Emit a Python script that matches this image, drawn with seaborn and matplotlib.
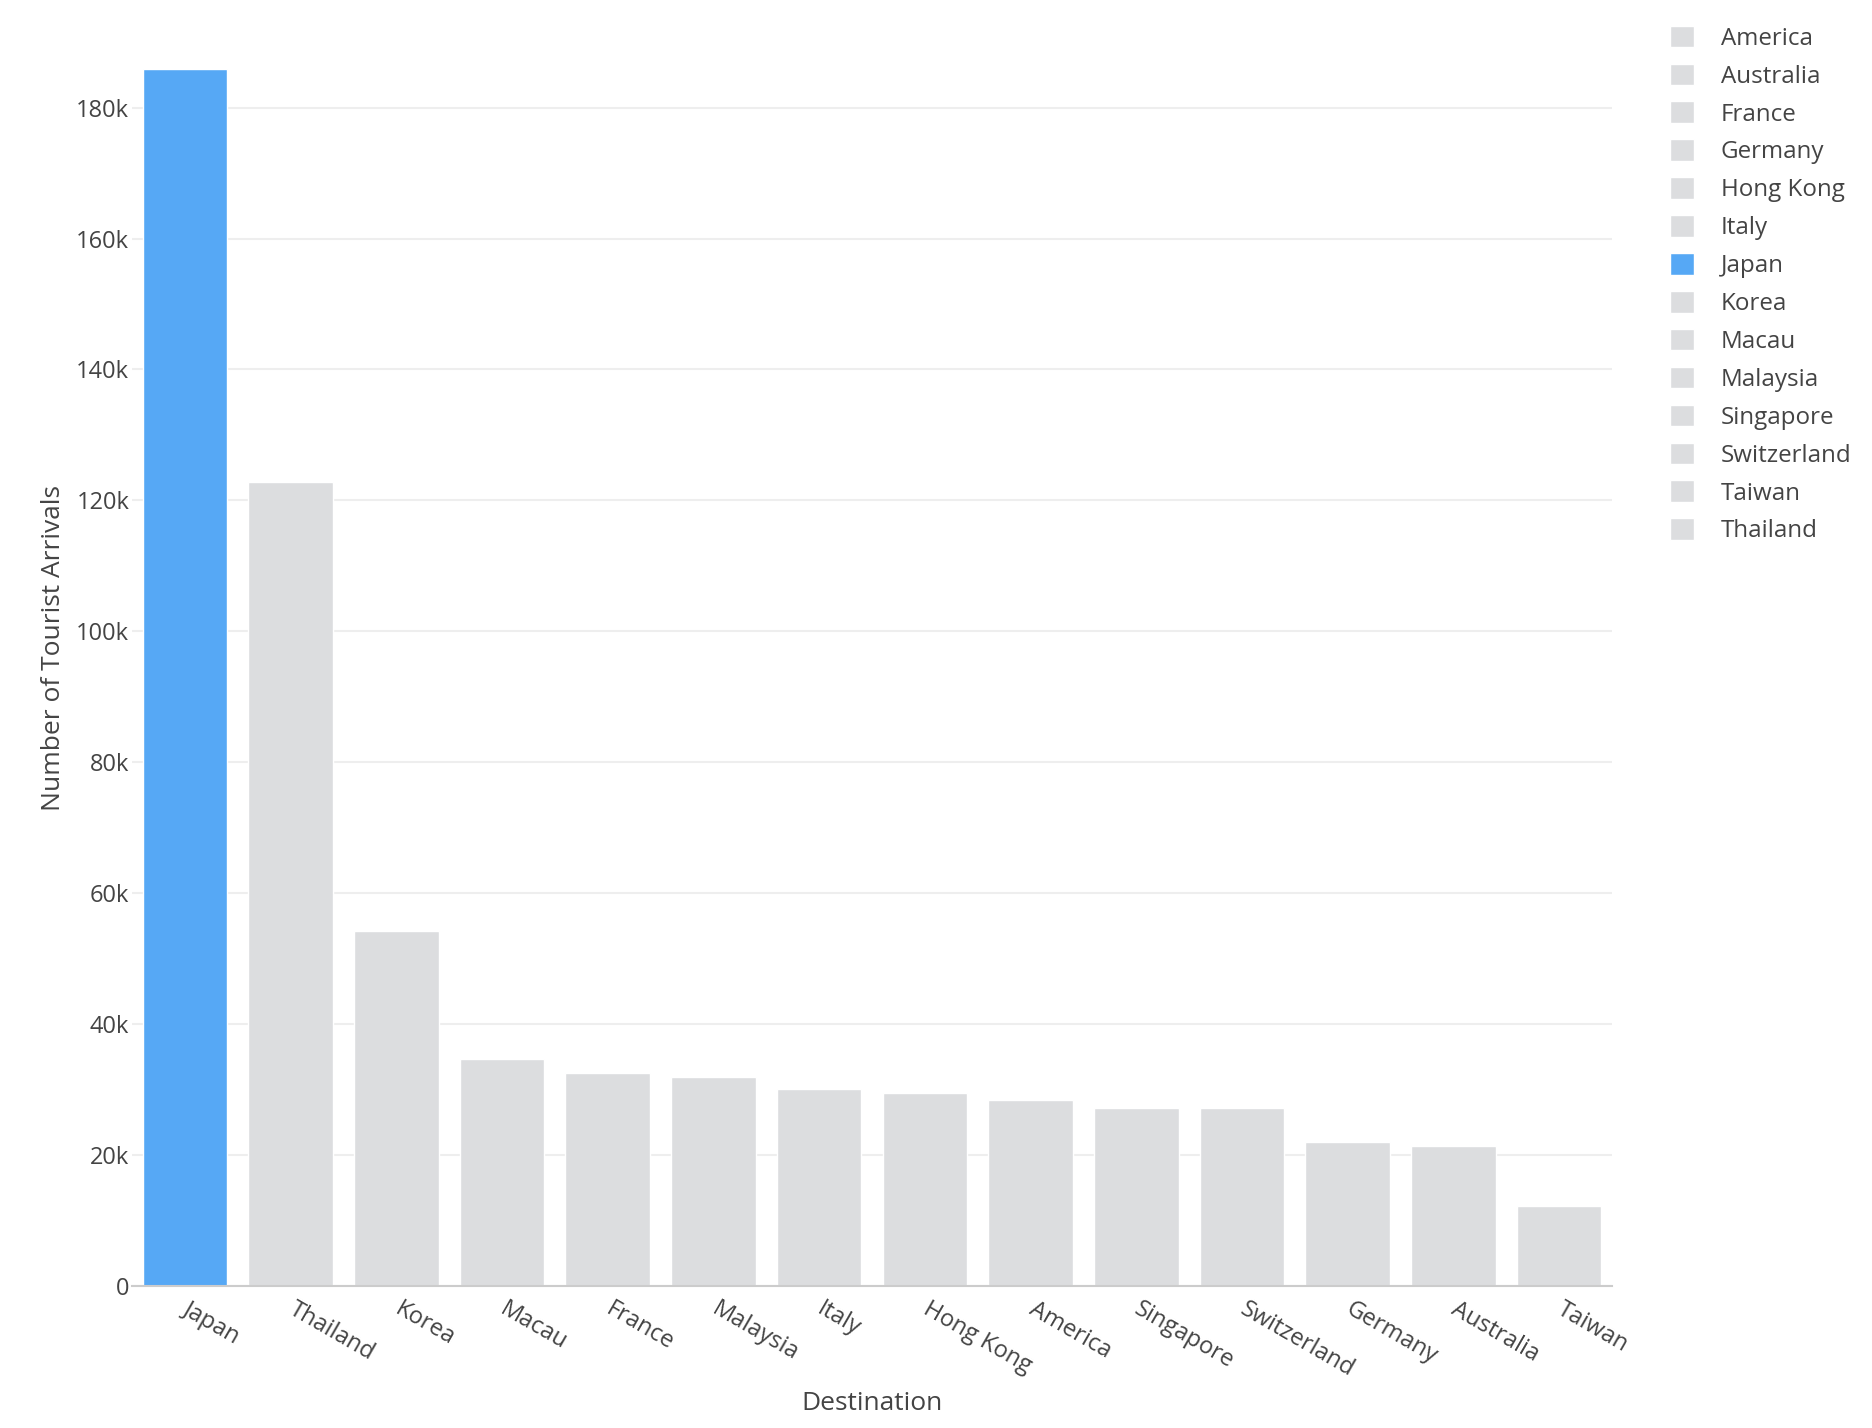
import matplotlib
matplotlib.use("Agg")
import matplotlib.pyplot as plt
import seaborn as sns
import pandas as pd
from matplotlib.ticker import FuncFormatter

destinations = ["Japan", "Thailand", "Korea", "Macau", "France", "Malaysia", "Italy",
                "Hong Kong", "America", "Singapore", "Switzerland", "Germany", "Australia", "Taiwan"]
arrivals = [185900, 122750, 54200, 34650, 32500, 31900, 30100,
            29450, 28400, 27200, 27200, 21900, 21300, 12150]
highlight = "Japan"
highlight_color = "#56A8F5"
base_color = "#DCDDDF"
y_ticks = [0, 20000, 40000, 60000, 80000, 100000, 120000, 140000, 160000, 180000]

sns.set_theme(style="white")
plt.rcParams['font.family'] = ['Open Sans', 'DejaVu Sans']
text_color = "#444444"

df = pd.DataFrame({"Destination": destinations, "Arrivals": arrivals})
palette = {d: (highlight_color if d == highlight else base_color) for d in destinations}
legend_order = sorted(destinations)

W, H = 1872, 1428
left, right, top, bottom = 132, 1612, 69, 1285.7
fig = plt.figure(figsize=(W/100, H/100), dpi=100)
ax = fig.add_axes([left/W, 1 - bottom/H, (right-left)/W, (bottom-top)/H])

sns.barplot(data=df, x="Destination", y="Arrivals", hue="Destination",
            order=destinations, hue_order=legend_order, palette=palette,
            dodge=False, width=0.8, saturation=1, ax=ax, legend=True)

ax.set_ylim(0, max(arrivals))
ax.set_xlim(-0.5, len(destinations) - 0.5)
ax.set_yticks(y_ticks)
ax.yaxis.set_major_formatter(FuncFormatter(lambda v, p: "0" if v == 0 else f"{int(v/1000)}k"))
ax.grid(axis="y", color="#EEEEEE", linewidth=1.5)
ax.set_axisbelow(True)
for s in ["top", "right", "left"]:
    ax.spines[s].set_visible(False)
ax.spines["bottom"].set_color("#CCCCCC")
ax.spines["bottom"].set_linewidth(1.5)
ax.tick_params(axis="both", length=0, labelsize=17, colors=text_color)
ax.tick_params(axis="y", pad=2)
ax.tick_params(axis="x", pad=16)
for lab in ax.get_xticklabels():
    lab.set_rotation(-30)
    lab.set_ha("left")
    lab.set_va("center")
    lab.set_rotation_mode("anchor")
ax.set_xlabel("Destination", fontsize=19, color=text_color)
ax.set_ylabel("Number of Tourist Arrivals", fontsize=19, color=text_color)
ax.xaxis.set_label_coords(0.5, -(1390.5 - bottom) / (bottom - top))
ax.yaxis.set_label_coords(-(left - 66.5) / (right - left), (bottom - 648) / (bottom - top))

leg = ax.get_legend()
handles = leg.legend_handles
labels = [t.get_text() for t in leg.get_texts()]
leg.remove()
fig.legend(handles, labels, loc="upper left", bbox_to_anchor=(1660/W, 1 - 16/H),
           frameon=False, fontsize=17.4, handlelength=1.0, handleheight=1.0,
           handletextpad=1.12, labelspacing=0.53, labelcolor=text_color,
           borderaxespad=0, borderpad=0.4)

fig.savefig("out.png", dpi=100, facecolor="white")
